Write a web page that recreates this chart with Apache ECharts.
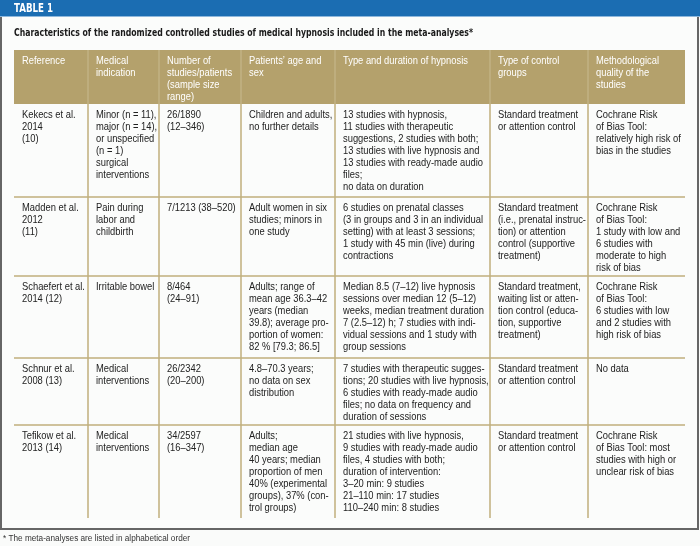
<!DOCTYPE html>
<html>
<head>
<meta charset="utf-8">
<script src="https://cdn.jsdelivr.net/npm/echarts@6/dist/echarts.min.js"></script>
<style>
html,body{margin:0;padding:0;background:#fafbfa;}
#chart{width:700px;height:546px;}
</style>
</head>
<body>
<div id="chart"></div>
<script>
// ---- data ----
var tableLabel = 'TABLE 1';
var caption = 'Characteristics of the randomized controlled studies of medical hypnosis included in the meta-analyses*';
var footnote = '* The meta-analyses are listed in alphabetical order';
var headers = [
  'Reference',
  'Medical\nindication',
  'Number of\nstudies/patients\n(sample size\nrange)',
  'Patients\u2019 age and\nsex',
  'Type and duration of hypnosis',
  'Type of control\ngroups',
  'Methodological\nquality of the\nstudies'
];
var references = [
  'Kekecs et al.\n2014\n(10)',
  'Madden et al.\n2012\n(11)',
  'Schaefert et al.\n2014 (12)',
  'Schnur et al.\n2008 (13)',
  'Tefikow et al.\n2013 (14)'
];
var indications = [
  'Minor (n = 11),\nmajor (n = 14),\nor unspecified\n(n = 1)\nsurgical\ninterventions',
  'Pain during\nlabor and\nchildbirth',
  'Irritable bowel',
  'Medical\ninterventions',
  'Medical\ninterventions'
];
var studiesPatients = [
  '26/1890\n(12\u2013346)',
  '7/1213 (38\u2013520)',
  '8/464\n(24\u201391)',
  '26/2342\n(20\u2013200)',
  '34/2597\n(16\u2013347)'
];
var ageSex = [
  'Children and adults,\nno further details',
  'Adult women in six\nstudies; minors in\none study',
  'Adults; range of\nmean age 36.3\u201342\nyears (median\n39.8); average pro-\nportion of women:\n82 % [79.3; 86.5]',
  '4.8\u201370.3 years;\nno data on sex\ndistribution',
  'Adults;\nmedian age\n40 years; median\nproportion of men\n40% (experimental\ngroups), 37% (con-\ntrol groups)'
];
var hypnosisType = [
  '13 studies with hypnosis,\n11 studies with therapeutic\nsuggestions, 2 studies with both;\n13 studies with live hypnosis and\n13 studies with ready-made audio\nfiles;\nno data on duration',
  '6 studies on prenatal classes\n(3 in groups and 3 in an individual\nsetting) with at least 3 sessions;\n1 study with 45 min (live) during\ncontractions',
  'Median 8.5 (7\u201312) live hypnosis\nsessions over median 12 (5\u201312)\nweeks, median treatment duration\n7 (2.5\u201312) h; 7 studies with indi-\nvidual sessions and 1 study with\ngroup sessions',
  '7 studies with therapeutic sugges-\ntions; 20 studies with live hypnosis,\n6 studies with ready-made audio\nfiles; no data on frequency and\nduration of sessions',
  '21 studies with live hypnosis,\n9 studies with ready-made audio\nfiles, 4 studies with both;\nduration of intervention:\n3\u201320 min: 9 studies\n21\u2013110 min: 17 studies\n110\u2013240 min: 8 studies'
];
var controlGroups = [
  'Standard treatment\nor attention control',
  'Standard treatment\n(i.e., prenatal instruc-\ntion) or attention\ncontrol (supportive\ntreatment)',
  'Standard treatment,\nwaiting list or atten-\ntion control (educa-\ntion, supportive\ntreatment)',
  'Standard treatment\nor attention control',
  'Standard treatment\nor attention control'
];
var quality = [
  'Cochrane Risk\nof Bias Tool:\nrelatively high risk of\nbias in the studies',
  'Cochrane Risk\nof Bias Tool:\n1 study with low and\n6 studies with\nmoderate to high\nrisk of bias',
  'Cochrane Risk\nof Bias Tool:\n6 studies with low\nand 2 studies with\nhigh risk of bias',
  'No data',
  'Cochrane Risk\nof Bias Tool: most\nstudies with high or\nunclear risk of bias'
];

// ---- layout (positions / styles) ----
var colEdges = [14, 88, 159, 241, 335, 490, 588, 685];
var headerTop = 50, headerBottom = 104;
var rowEdges = [104, 197, 276, 358, 425, 518];
var padX = 8, padY = 5;
var FONT = '"Liberation Sans",Arial,sans-serif';
var BOLDFONT = '"DejaVu Sans",sans-serif';
var FS = 11, LH = 12;
var GOLD = '#b4a16c', LINE = '#c1af7c', BLUE = '#1b6db2', FRAME = '#666666', TXT = '#222222';

// horizontal condensing factors so the (condensed) reference typeface widths are matched
var cv = document.createElement('canvas').getContext('2d');
function fitScale(sample, font, targetWidth) {
  cv.font = font;
  return targetWidth / cv.measureText(sample).width;
}
var bodyFont = FS + 'px ' + FONT;
var bodyScale = fitScale('13 studies with ready-made audio', bodyFont, 140);
var capFont = 'bold 11px ' + BOLDFONT;
var capScale = fitScale(caption, capFont, 459);
var tblFont = 'bold 12px ' + BOLDFONT;
var tblScale = fitScale(tableLabel, tblFont, 39);
var footFont = '8.5px ' + FONT;
var footScale = fitScale(footnote, footFont, 187);

var columns = [references, indications, studiesPatients, ageSex, hypnosisType, controlGroups, quality];

var g = [];
// outer frame
g.push({type:'rect', shape:{x:1, y:1, width:697, height:528}, style:{fill:'#fbfcfb', stroke:FRAME, lineWidth:2}});
// blue title bar
g.push({type:'rect', shape:{x:0, y:0, width:700, height:16}, style:{fill:BLUE}});
g.push({type:'rect', shape:{x:0, y:16, width:700, height:1}, style:{fill:'#8fb8dc'}});
g.push({type:'text', x:14, y:8.5, scaleX:tblScale, style:{text:tableLabel, fill:'#ffffff', font:tblFont, verticalAlign:'middle'}});
// caption
g.push({type:'text', x:14, y:33, scaleX:capScale, style:{text:caption, fill:'#1a1a1a', font:capFont, verticalAlign:'middle'}});
// header band
g.push({type:'rect', shape:{x:colEdges[0], y:headerTop, width:colEdges[colEdges.length-1]-colEdges[0], height:headerBottom-headerTop}, style:{fill:GOLD}});
headers.forEach(function(h, i){
  g.push({type:'text', x:colEdges[i]+padX, y:headerTop+padY, scaleX:bodyScale, style:{text:h, fill:'#ffffff', font:bodyFont, lineHeight:LH, verticalAlign:'top'}});
});
// header column separators (lighter)
for (var i = 1; i < colEdges.length-1; i++) {
  g.push({type:'line', shape:{x1:colEdges[i], y1:headerTop, x2:colEdges[i], y2:headerBottom}, style:{stroke:'#c8ba8f', lineWidth:1}});
}
// body vertical lines
for (var i = 1; i < colEdges.length-1; i++) {
  g.push({type:'line', shape:{x1:colEdges[i], y1:headerBottom, x2:colEdges[i], y2:rowEdges[rowEdges.length-1]}, style:{stroke:LINE, lineWidth:1.5}});
}
// body horizontal lines
for (var r = 1; r < rowEdges.length-1; r++) {
  g.push({type:'line', shape:{x1:colEdges[0], y1:rowEdges[r], x2:colEdges[colEdges.length-1], y2:rowEdges[r]}, style:{stroke:LINE, lineWidth:1.5}});
}
// cells
columns.forEach(function(col, c){
  col.forEach(function(txt, r){
    g.push({type:'text', x:colEdges[c]+padX, y:rowEdges[r]+padY, scaleX:bodyScale, style:{text:txt, fill:TXT, font:bodyFont, lineHeight:LH, verticalAlign:'top'}});
  });
});
// footnote
g.push({type:'text', x:3, y:539, scaleX:footScale, style:{text:footnote, fill:'#333', font:footFont, verticalAlign:'middle'}});

var chart = echarts.init(document.getElementById('chart'), null, {renderer:'canvas'});
chart.setOption({backgroundColor:'#fafbfa', animation:false, graphic:{elements:g}});
</script>
</body>
</html>
